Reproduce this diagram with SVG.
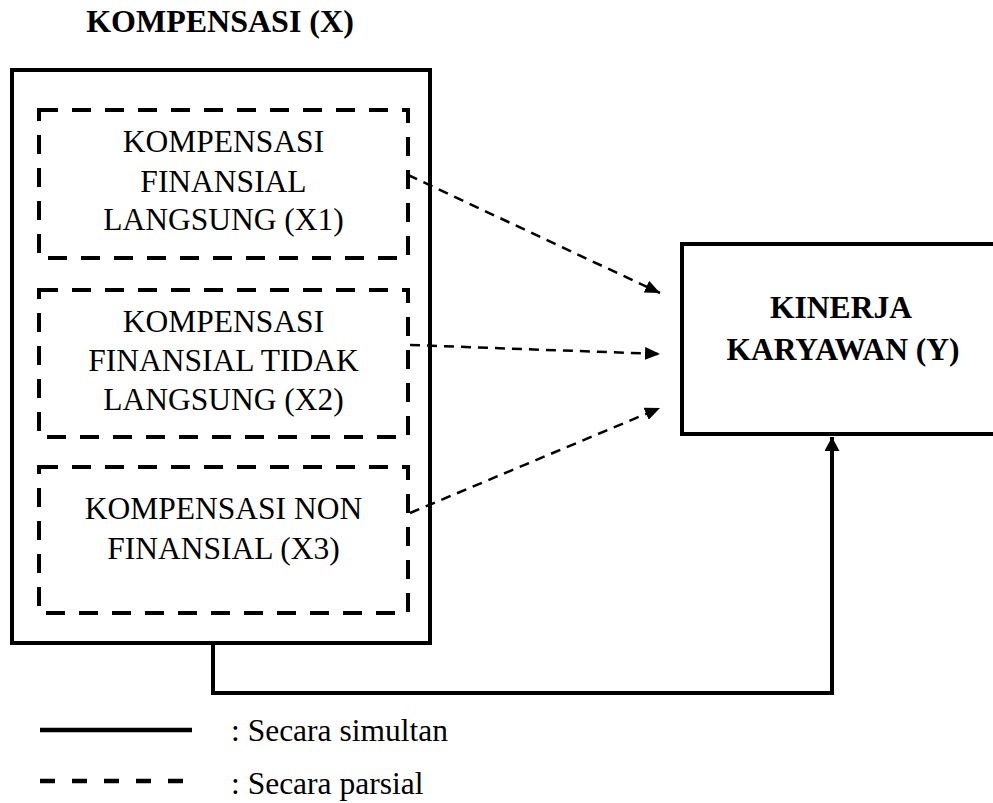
<svg xmlns="http://www.w3.org/2000/svg" width="993" height="803" viewBox="0 0 993 803">
  <style>
    .t { font-family: "Liberation Serif", "Times New Roman", serif; font-size: 31.5px; fill: #000; }
    .c { text-anchor: middle; }
    .b { font-weight: bold; }
    .solid { fill: none; stroke: #000; stroke-width: 4; }
    .dbox { fill: none; stroke: #000; stroke-width: 4; stroke-dasharray: 19 14; }
    .dconn { fill: none; stroke: #000; stroke-width: 2.5; stroke-dasharray: 10 7; }
  </style>
  <defs>
    <marker id="ah" markerUnits="userSpaceOnUse" markerWidth="16" markerHeight="14" refX="15" refY="6.5" orient="auto">
      <path d="M0,0 L15,6.5 L0,13 z" fill="#000"/>
    </marker>
    <marker id="ahs" markerUnits="userSpaceOnUse" markerWidth="16" markerHeight="16" refX="14" refY="7.5" orient="auto">
      <path d="M0,0 L14,7.5 L0,15 z" fill="#000"/>
    </marker>
  </defs>
  <rect width="993" height="803" fill="#fff"/>

  <g id="title">
    <text class="t b c" x="220" y="32" style="font-size:32px">KOMPENSASI (X)</text>
  </g>

  <g id="kompensasi">
    <rect class="solid" x="12" y="70" width="418" height="573"/>
  </g>

  <g id="x1">
    <rect class="dbox" x="39" y="110" width="369" height="148"/>
    <text class="t c" x="223.5" y="152">KOMPENSASI</text>
    <text class="t c" x="223.5" y="192">FINANSIAL</text>
    <text class="t c" x="223.5" y="230">LANGSUNG (X1)</text>
  </g>

  <g id="x2">
    <rect class="dbox" x="39" y="290" width="369" height="147"/>
    <text class="t c" x="223.5" y="332">KOMPENSASI</text>
    <text class="t c" x="223.5" y="371">FINANSIAL TIDAK</text>
    <text class="t c" x="223.5" y="410">LANGSUNG (X2)</text>
  </g>

  <g id="x3">
    <rect class="dbox" x="39" y="467" width="369" height="146"/>
    <text class="t c" x="223.5" y="519">KOMPENSASI NON</text>
    <text class="t c" x="223.5" y="559">FINANSIAL (X3)</text>
  </g>

  <g id="kinerja">
    <rect class="solid" x="682" y="244" width="330" height="190"/>
    <text class="t b c" x="841" y="318">KINERJA</text>
    <text class="t b c" x="843" y="360">KARYAWAN (Y)</text>
  </g>

  <g id="connectors">
    <line class="dconn" x1="408" y1="175" x2="660" y2="293" marker-end="url(#ah)"/>
    <line class="dconn" x1="410" y1="345" x2="660" y2="354" marker-end="url(#ah)"/>
    <line class="dconn" x1="410" y1="513" x2="660" y2="408" marker-end="url(#ah)"/>
    <path class="solid" d="M213,643 V693 H832 V437" marker-end="url(#ahs)"/>
  </g>

  <g id="legend">
    <line x1="40" y1="730" x2="192" y2="730" stroke="#000" stroke-width="4.5"/>
    <text class="t" x="231" y="741">: Secara simultan</text>
    <line x1="40" y1="781" x2="187" y2="781" stroke="#000" stroke-width="4.5" stroke-dasharray="15 17"/>
    <text class="t" x="231" y="794">: Secara parsial</text>
  </g>
</svg>
